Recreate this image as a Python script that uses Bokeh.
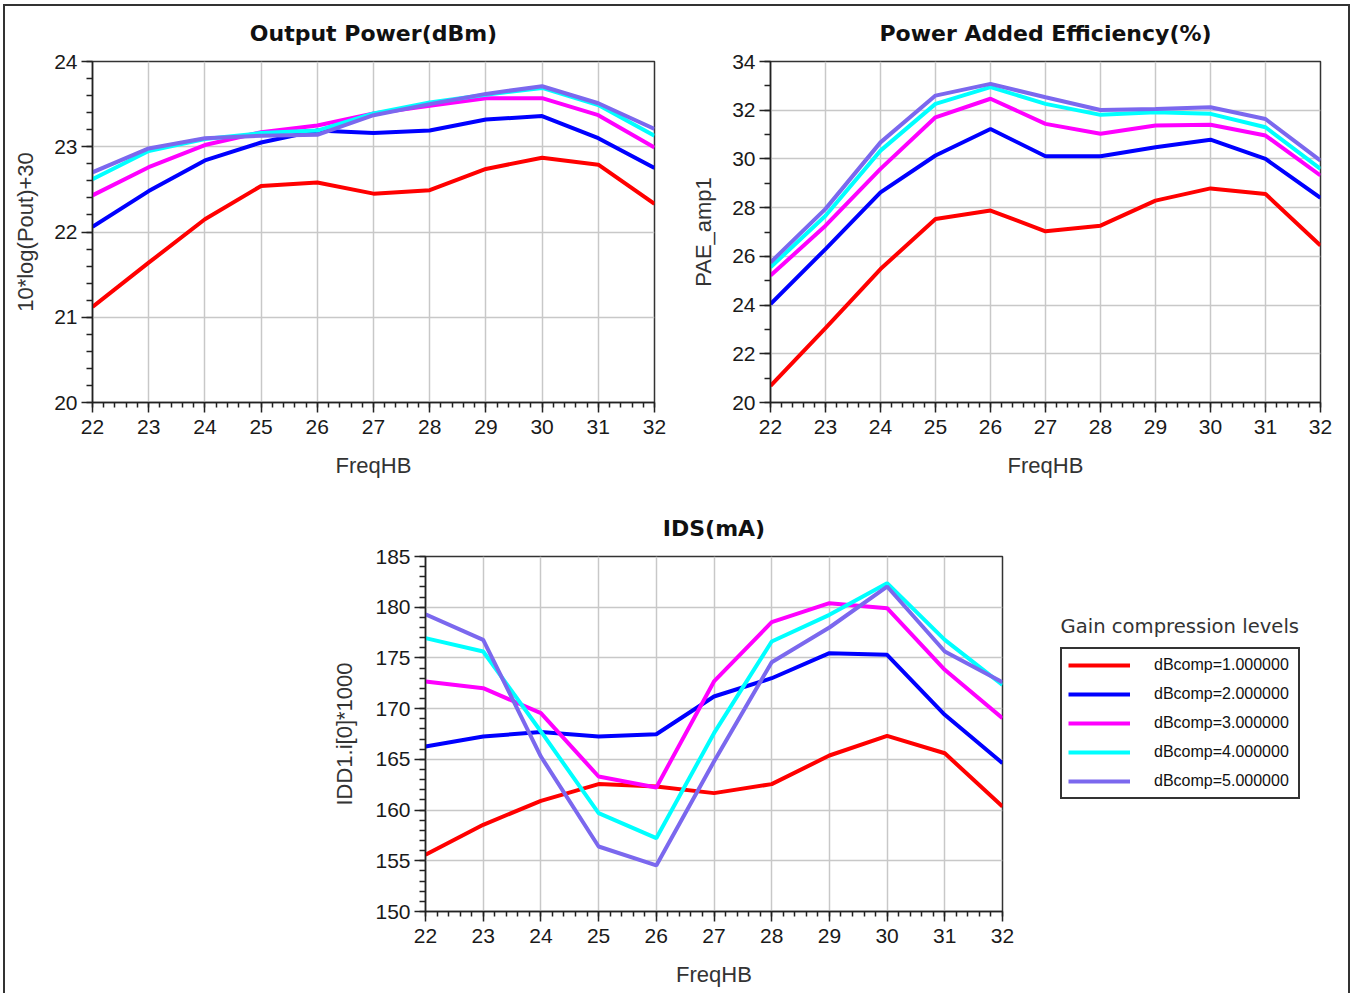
import numpy as np
from bokeh.plotting import figure
from bokeh.models import Range1d, SingleIntervalTicker, Legend, LegendItem, Spacer, Label, Title
from bokeh.layouts import row, column
from bokeh.embed import file_html
from bokeh.resources import INLINE

# ---------------- data ----------------
freq = [22, 23, 24, 25, 26, 27, 28, 29, 30, 31, 32]
series_labels = ["dBcomp=1.000000", "dBcomp=2.000000", "dBcomp=3.000000",
                 "dBcomp=4.000000", "dBcomp=5.000000"]
series_colors = ["#ff0000", "#0000ff", "#ff00ff", "#00ffff", "#7b68ee"]
legend_title_text = "Gain compression levels"

pout_1 = [21.12, 21.64, 22.15, 22.54, 22.58, 22.45, 22.49, 22.74, 22.87, 22.79, 22.33]
pout_2 = [22.06, 22.48, 22.84, 23.05, 23.19, 23.16, 23.19, 23.32, 23.36, 23.10, 22.75]
pout_3 = [22.43, 22.76, 23.02, 23.17, 23.25, 23.39, 23.48, 23.57, 23.57, 23.37, 22.99]
pout_4 = [22.62, 22.95, 23.09, 23.16, 23.19, 23.39, 23.52, 23.61, 23.69, 23.49, 23.13]
pout_5 = [22.70, 22.98, 23.10, 23.13, 23.14, 23.37, 23.50, 23.62, 23.71, 23.51, 23.21]

pae_1 = [20.68, 23.05, 25.48, 27.53, 27.88, 27.03, 27.26, 28.29, 28.79, 28.56, 26.44]
pae_2 = [24.04, 26.30, 28.63, 30.14, 31.23, 30.11, 30.11, 30.48, 30.79, 30.00, 28.40]
pae_3 = [25.21, 27.26, 29.59, 31.71, 32.47, 31.44, 31.03, 31.37, 31.40, 30.96, 29.32]
pae_4 = [25.55, 27.67, 30.34, 32.26, 32.95, 32.26, 31.81, 31.92, 31.85, 31.30, 29.59]
pae_5 = [25.75, 27.95, 30.68, 32.60, 33.08, 32.53, 32.01, 32.05, 32.12, 31.64, 29.93]

ids_1 = [155.59, 158.55, 160.91, 162.56, 162.33, 161.67, 162.56, 165.38, 167.32, 165.60, 160.35]
ids_2 = [166.27, 167.26, 167.69, 167.26, 167.48, 171.20, 173.00, 175.47, 175.31, 169.39, 164.63]
ids_3 = [172.68, 172.02, 169.55, 163.31, 162.23, 172.68, 178.53, 180.40, 179.90, 173.83, 169.06]
ids_4 = [176.95, 175.63, 167.75, 159.70, 157.23, 167.58, 176.62, 179.25, 182.37, 176.78, 172.35]
ids_5 = [179.31, 176.78, 165.28, 156.41, 154.54, 164.79, 174.58, 178.00, 182.04, 175.63, 172.60]

pout_series = [pout_1, pout_2, pout_3, pout_4, pout_5]
pae_series = [pae_1, pae_2, pae_3, pae_4, pae_5]
ids_series = [ids_1, ids_2, ids_3, ids_4, ids_5]

TICK_FONT = "Liberation Sans"
TITLE_FONT = "DejaVu Sans"
LINE_W = 4


def make_fig(title, ylabel, yrange, ystep, yminor, width, height,
             bl, br, bt, bb, ylabel_standoff, title_standoff, title_gap):
    p = figure(width=width, height=height,
               x_range=Range1d(freq[0], freq[-1]), y_range=Range1d(*yrange),
               output_backend="svg", toolbar_location=None,
               min_border_left=bl, min_border_right=br,
               min_border_top=bt, min_border_bottom=bb)
    p.title.text = title
    p.title.align = "center"
    p.title.text_font = TITLE_FONT
    p.title.text_font_size = "22px"
    p.title.text_font_style = "bold"
    p.title.text_color = "#111111"
    p.title.standoff = title_standoff
    if title_gap is not None:
        # thin blank band between the title and the plot frame
        p.add_layout(Title(text=" ", text_font_size="1px", standoff=title_gap), "above")

    p.xaxis.ticker = SingleIntervalTicker(interval=1, num_minor_ticks=5)
    p.yaxis.ticker = SingleIntervalTicker(interval=ystep, num_minor_ticks=yminor)
    p.xaxis.axis_label = "FreqHB"
    p.yaxis.axis_label = ylabel

    for ax in (p.xaxis, p.yaxis):
        ax.axis_line_color = "#222222"
        ax.axis_line_width = 1.5
        ax.major_tick_line_color = "#222222"
        ax.minor_tick_line_color = "#222222"
        ax.major_tick_line_width = 1.5
        ax.minor_tick_line_width = 1.5
        ax.major_tick_in = 0
        ax.minor_tick_in = 0
        ax.major_label_text_font = TICK_FONT
        ax.major_label_text_font_size = "21px"
        ax.major_label_text_color = "#1a1a1a"
        ax.axis_label_text_font = TICK_FONT
        ax.axis_label_text_font_size = "22px"
        ax.axis_label_text_font_style = "normal"
        ax.axis_label_text_color = "#333333"
    p.xaxis.major_tick_out = 10
    p.xaxis.minor_tick_out = 5
    p.xaxis.major_label_standoff = 7
    p.xaxis.axis_label_standoff = 16
    p.yaxis.major_tick_out = 11
    p.yaxis.minor_tick_out = 6
    p.yaxis.major_label_standoff = 4
    p.yaxis.axis_label_standoff = ylabel_standoff

    p.grid.grid_line_color = "#c8c8c8"
    p.grid.grid_line_width = 1.5
    p.outline_line_color = "#333333"
    p.outline_line_width = 1.5
    p.outline_line_alpha = 1.0
    p.background_fill_color = "white"
    p.border_fill_color = "white"
    return p


def add_lines(p, series):
    for ys, c in zip(series, series_colors):
        p.line(freq, ys, line_color=c, line_width=LINE_W)


fa = make_fig("Output Power(dBm)", "10*log(Pout)+30", (20, 24), 1, 5,
              674, 483, 87, 25, 55, 87, 13, 10, 8)
add_lines(fa, pout_series)

fb = make_fig("Power Added Efficiency(%)", "PAE_amp1", (20, 34), 2, 2,
              669, 483, 91, 28, 55, 87, 13, 10, 8)
add_lines(fb, pae_series)

fc = make_fig("IDS(mA)", "IDD1.i[0]*1000", (150, 185), 5, 5,
              703, 504, 96, 30, 67, 82, 15, 32, None)
add_lines(fc, ids_series)

# legend panel, aligned with the IDS plot frame
fl = figure(width=316, height=504, x_range=Range1d(0, 1), y_range=Range1d(0, 1),
            x_axis_type=None, y_axis_type=None,
            output_backend="svg", toolbar_location=None,
            min_border_left=28, min_border_right=18,
            min_border_top=67, min_border_bottom=82)
fl.grid.visible = False
fl.outline_line_alpha = 0
fl.background_fill_color = "white"
fl.border_fill_color = "white"

# legend swatches only (no data points)
proxies = [fl.line(x=np.array([np.nan]), y=np.array([np.nan]), line_color=c, line_width=LINE_W)
           for c in series_colors]
legend = Legend(items=[LegendItem(label=l, renderers=[r]) for l, r in zip(series_labels, proxies)],
                location=(0, 112))
legend.border_line_color = "#333333"
legend.border_line_width = 2
legend.border_line_alpha = 1.0
legend.background_fill_color = "white"
legend.background_fill_alpha = 1.0
legend.label_text_font = "Liberation Sans"
legend.label_text_font_size = "16px"
legend.label_text_color = "#111111"
legend.glyph_width = 62
legend.glyph_height = 20
legend.label_height = 20
legend.label_width = 138
legend.label_standoff = 24
legend.spacing = 9
legend.padding = 6
legend.margin = 0
fl.add_layout(legend)

legend_title = Label(x=0, y=285, x_units="screen", y_units="screen",
                     text=legend_title_text, text_baseline="middle", text_align="left",
                     text_font="DejaVu Sans", text_font_size="19.6px",
                     text_color="#333333")
fl.add_layout(legend_title)

# outer frame lines of the picture
DARK = {"background-color": "#333333"}
left_line = column(Spacer(width=2, height=4), Spacer(width=2, height=989, styles=DARK))
right_line = column(Spacer(width=2, height=4), Spacer(width=2, height=989, styles=DARK))
top_line = Spacer(width=1343, height=2, styles=DARK)

main = column(Spacer(width=1343, height=4), top_line,
              row(fa, fb),
              row(Spacer(width=324, height=504), fc, fl))
layout = row(Spacer(width=3, height=993), left_line, main, right_line)

open("out.html", "w").write(file_html(layout, INLINE))
